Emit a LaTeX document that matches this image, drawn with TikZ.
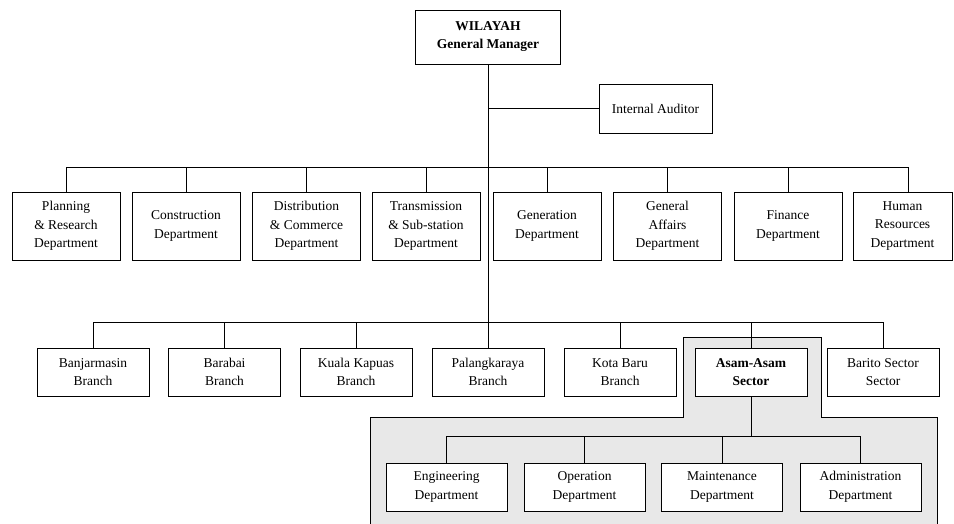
\documentclass[tikz,border=0pt]{standalone}
\usepackage{fontspec}
\setmainfont{Liberation Serif}
\begin{document}
\begin{tikzpicture}[x=1pt,y=-1pt,
  font=\fontsize{13.5}{18.5}\selectfont,
  box/.style={draw, fill=white, align=center, inner sep=0pt, line width=0.9pt},
  deptbox/.style={box, minimum width=108pt, minimum height=68pt},
  branchbox/.style={box, minimum width=112pt, minimum height=48pt},
  subbox/.style={box, minimum width=121pt, minimum height=48pt},
  conn/.style={line width=0.8pt},
  region/.style={fill=black!9, draw, line width=0.9pt}]
\useasboundingbox (0,0) rectangle (954,524);
% shaded region of Asam-Asam sector
\fill[black!9] (370,526) -- (370,417) -- (683,417) -- (683,337) -- (821,337) -- (821,417) -- (937,417) -- (937,526) -- cycle;
\draw[line width=0.9pt] (370,526) -- (370,417) -- (683,417) -- (683,337) -- (821,337) -- (821,417) -- (937,417) -- (937,526);
% top
\node[box, minimum width=145pt, minimum height=54pt, font=\fontsize{13.5}{18}\selectfont\bfseries] (gm) at (488,37) {WILAYAH\\General Manager};
\node[box, minimum width=113pt, minimum height=49pt] (ia) at (655.5,108.5) {Internal Auditor};
% departments
\node[deptbox] (plan) at (66,226) {Planning\\\& Research\\Department};
\node[deptbox] (cons) at (186,226) {Construction\\Department};
\node[deptbox] (dist) at (306.5,226) {Distribution\\\& Commerce\\Department};
\node[deptbox] (trans) at (426,226) {Transmission\\\& Sub-station\\Department};
\node[deptbox] (gen) at (547,226) {Generation\\Department};
\node[deptbox] (ga) at (667.5,226) {General\\Affairs\\Department};
\node[deptbox] (fin) at (788,226) {Finance\\Department};
\node[deptbox, minimum width=99pt] (hr) at (902.5,226) {Human\\Resources\\Department};
% branches
\node[branchbox] (banj) at (93,372) {Banjarmasin\\Branch};
\node[branchbox] (bara) at (224.5,372) {Barabai\\Branch};
\node[branchbox] (kk) at (356,372) {Kuala Kapuas\\Branch};
\node[branchbox] (pal) at (488,372) {Palangkaraya\\Branch};
\node[branchbox] (kb) at (620,372) {Kota Baru\\Branch};
\node[branchbox, font=\fontsize{13.5}{18.5}\selectfont\bfseries] (asam) at (751,372) {Asam-Asam\\Sector};
\node[branchbox] (bar) at (883,372) {Barito Sector\\Sector};
% sub departments
\node[subbox] (eng) at (446.5,487) {Engineering\\Department};
\node[subbox] (op) at (584.5,487) {Operation\\Department};
\node[subbox] (mai) at (722,487) {Maintenance\\Department};
\node[subbox] (adm) at (860.5,487) {Administration\\Department};
% bus coordinates
\coordinate (b1) at (488,167);
\coordinate (b2) at (488,322);
\coordinate (b3) at (751,436);
% connectors
\draw[conn] (gm.south) -- (pal.north);
\draw[conn] (gm.south |- ia.west) -- (ia.west);
\draw[conn] (plan.north |- b1) -- ([xshift=5.5pt]hr.north |- b1);
\foreach \n in {plan,cons,dist,trans,gen,ga,fin}
  \draw[conn] (\n.north) -- (\n.north |- b1);
\draw[conn] ([xshift=5.5pt]hr.north) -- ([xshift=5.5pt]hr.north |- b1);
\draw[conn] (banj.north |- b2) -- (bar.north |- b2);
\foreach \n in {banj,bara,kk,kb,asam,bar}
  \draw[conn] (\n.north) -- (\n.north |- b2);
\draw[conn] (asam.south) -- (b3);
\draw[conn] (eng.north |- b3) -- (adm.north |- b3);
\foreach \n in {eng,op,mai,adm}
  \draw[conn] (\n.north) -- (\n.north |- b3);
\end{tikzpicture}
\end{document}
